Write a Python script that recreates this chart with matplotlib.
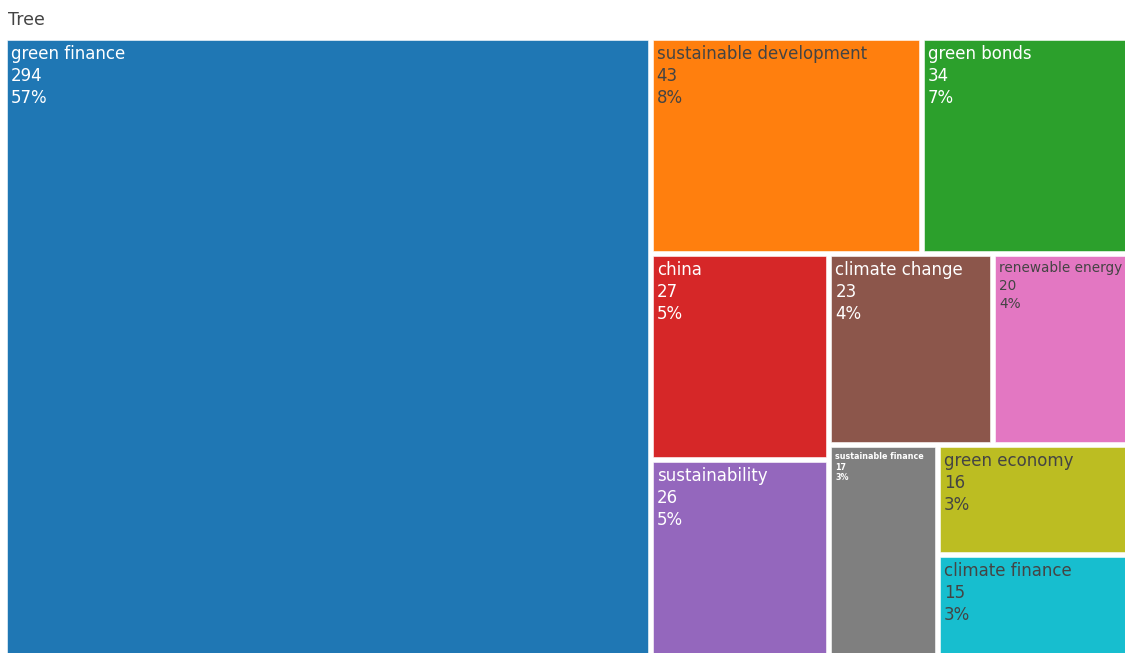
import matplotlib
matplotlib.use("Agg")
import matplotlib.pyplot as plt
from matplotlib.patches import Rectangle

plt.rcParams["font.family"] = ["DejaVu Sans"]

labels = ["green finance", "sustainable development", "green bonds", "china",
          "sustainability", "climate change", "renewable energy",
          "sustainable finance", "green economy", "climate finance"]
values = [294, 43, 34, 27, 26, 23, 20, 17, 16, 15]
colors = ["#1f77b4", "#ff7f0e", "#2ca02c", "#d62728", "#9467bd",
          "#8c564b", "#e377c2", "#7f7f7f", "#bcbd22", "#17becf"]
dark_text = ["sustainable development", "renewable energy", "green economy", "climate finance"]
small_font = {"renewable energy": 9.8, "sustainable finance": 5.8}


def worst(row, side):
    s = sum(row)
    return max(max(side * side * r / (s * s), (s * s) / (side * side * r)) for r in row)


def squarify(vals, x, y, w, h):
    # classic squarified treemap, vals already sorted descending
    rects = []
    vals = list(vals)
    total = sum(vals)
    scale = w * h / total
    areas = [v * scale for v in vals]
    while areas:
        side = min(w, h)
        row = [areas[0]]
        i = 1
        while i < len(areas) and worst(row + [areas[i]], side) <= worst(row, side):
            row.append(areas[i])
            i += 1
        s = sum(row)
        if w >= h:
            rw = s / h
            yy = y
            for a in row:
                rh = a / rw
                rects.append((x, yy, rw, rh))
                yy += rh
            x += rw
            w -= rw
        else:
            rh = s / w
            xx = x
            for a in row:
                rw = a / rh
                rects.append((xx, y, rw, rh))
                xx += rw
            y += rh
            h -= rh
        areas = areas[i:]
    return rects


W, H = 1131.0, 620.0
fig = plt.figure(figsize=(11.25, 6.53), dpi=100)
ax = fig.add_axes([4.5 / 1125, 1 - (37.5 + H) / 653, W / 1125, H / 653])
ax.set_xlim(0, W)
ax.set_ylim(H, 0)
ax.axis("off")

total = sum(values)
gap = 2.5
for (x, y, w, h), lab, val, col in zip(squarify(values, 0, 0, W, H), labels, values, colors):
    ax.add_patch(Rectangle((x + gap, y + gap), w - 2 * gap, h - 2 * gap,
                           facecolor=col, edgecolor="white", linewidth=0.4))
    tc = "#444444" if lab in dark_text else "white"
    fs = small_font.get(lab, 12.0)
    lh = fs * 1.85
    wt = "bold" if lab == "sustainable finance" else "normal"
    lines = [lab, str(val), "%d%%" % round(100 * val / total)]
    for k, t in enumerate(lines):
        ax.text(x + gap + 4, y + gap + 5 + k * lh, t, color=tc, fontsize=fs,
                fontweight=wt, ha="left", va="top", clip_on=True)

fig.text(8 / 1125, 1 - 20 / 653, "Tree", color="#444444", fontsize=12.5,
         ha="left", va="center")

fig.savefig("out.png", dpi=100)
